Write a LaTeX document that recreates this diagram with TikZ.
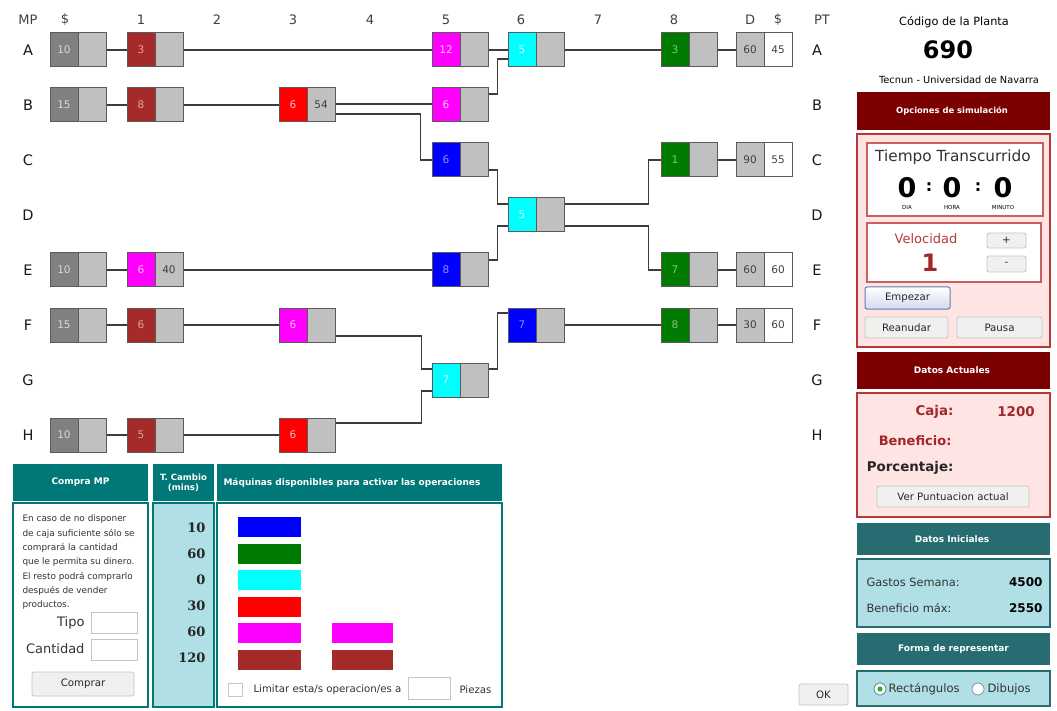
\documentclass[tikz,border=0pt]{standalone}
\usepackage{fontspec}
\setmainfont{DejaVu Sans}
\newfontfamily\serifb{DejaVu Serif}
\usetikzlibrary{calc}
\definecolor{mgrey}{HTML}{808080}
\definecolor{lgrey}{HTML}{C0C0C0}
\definecolor{brn}{HTML}{A52A2A}
\definecolor{grn}{HTML}{007A00}
\definecolor{cyn}{HTML}{00FFFF}
\definecolor{mag}{HTML}{FF00FF}
\definecolor{blu}{HTML}{0000FF}
\definecolor{rd}{HTML}{FF0000}
\definecolor{lnc}{HTML}{3C3C3C}
\definecolor{boxb}{HTML}{5A5A5A}
\definecolor{boxtxt}{HTML}{404040}
\definecolor{dred}{HTML}{7B0000}
\definecolor{pinkf}{HTML}{FFE4E4}
\definecolor{pinkb}{HTML}{B83838}
\definecolor{pinkl}{HTML}{C86060}
\definecolor{tealA}{HTML}{007878}
\definecolor{tealB}{HTML}{266C70}
\definecolor{pblue}{HTML}{B0E0E6}
\definecolor{txtred}{HTML}{A0282A}
\definecolor{btnf}{HTML}{F0F0EE}
\definecolor{btnb}{HTML}{C4C4C4}
\definecolor{tgrey}{HTML}{D8D8D8}
\definecolor{tbrn}{HTML}{E8A0A0}
\definecolor{tred}{HTML}{FFC0C0}
\definecolor{tmag}{HTML}{FFC8FF}
\definecolor{tcya}{HTML}{D0FFFF}
\definecolor{tblu}{HTML}{9090FF}
\definecolor{tgrn}{HTML}{80C880}
\definecolor{empb}{HTML}{5F7FB0}
\definecolor{empf}{HTML}{D4DAF0}
\definecolor{radb}{HTML}{6080A0}
\definecolor{radb2}{HTML}{8090A0}
\definecolor{radg}{HTML}{20B020}
\definecolor{chkb}{HTML}{C8C8C0}
\tikzset{
 lbox/.style={draw=boxb, line width=1pt, minimum width=28pt, minimum height=34pt, inner sep=0pt, font=\fontsize{10.5}{12}\selectfont},
 rbox/.style={lbox, fill=lgrey, text=boxtxt},
 wire/.style={draw=lnc, line width=1.6pt},
 hdr/.style={font=\fontsize{13}{15}\selectfont, text=black!75},
 rowl/.style={font=\fontsize{14.5}{16}\selectfont, text=black!90},
 bantext/.style={font=\bfseries\fontsize{9}{10.5}\selectfont, text=white, align=center},
 btn/.style={draw=btnb, fill=btnf, rounded corners=2pt, line width=0.8pt},
 tbox/.style={draw=btnb, fill=white, line width=0.8pt},
 btntxt/.style={font=\fontsize{10.2}{12}\selectfont, text=black!85},
}
\newcommand\mach[7]{%
 \node[lbox,fill=#4,text=#5] (#1) at (#2+14,#3) {#6};
 \node[rbox] (#1r) at (#2+42,#3) {#7};}
\newcommand\dmach[4]{%
 \node[lbox,fill=lgrey,text=boxtxt] (#1) at (750,#2) {#3};
 \node[lbox,fill=white,text=boxtxt] (#1r) at (778,#2) {#4};}
\begin{document}
\begin{tikzpicture}[x=1pt,y=-1pt]
\useasboundingbox[fill=white] (0,0) rectangle (1057,711);
% headers
\foreach \t/\x [count=\i] in {MP/28,\$/65,1/141,2/217,3/293,4/370,5/446,6/521,7/598,8/674,D/750,\$/778,PT/822}
 \node[hdr] (h\i) at (\x,20) {\t};
\foreach \r/\y in {A/50,B/105,C/160,D/215,E/270,F/325,G/380,H/435}{
 \node[rowl] (L\r) at (28,\y) {\r};
 \node[rowl] (R\r) at (817,\y) {\r};}
% machines
\mach{A0}{50}{50}{mgrey}{tgrey}{10}{}
\mach{A1}{127}{50}{brn}{tbrn}{3}{}
\mach{A5}{432}{50}{mag}{tmag}{12}{}
\mach{A6}{508}{50}{cyn}{tcya}{5}{}
\mach{A8}{661}{50}{grn}{tgrn}{3}{}
\dmach{AD}{50}{60}{45}
\mach{B0}{50}{105}{mgrey}{tgrey}{15}{}
\mach{B1}{127}{105}{brn}{tbrn}{8}{}
\mach{B3}{279}{105}{rd}{tred}{6}{54}
\mach{B5}{432}{105}{mag}{tmag}{6}{}
\mach{C5}{432}{160}{blu}{tblu}{6}{}
\mach{C8}{661}{160}{grn}{tgrn}{1}{}
\dmach{CD}{160}{90}{55}
\mach{D6}{508}{215}{cyn}{tcya}{5}{}
\mach{E0}{50}{270}{mgrey}{tgrey}{10}{}
\mach{E1}{127}{270}{mag}{tmag}{6}{40}
\mach{E5}{432}{270}{blu}{tblu}{8}{}
\mach{E8}{661}{270}{grn}{tgrn}{7}{}
\dmach{ED}{270}{60}{60}
\mach{F0}{50}{325}{mgrey}{tgrey}{15}{}
\mach{F1}{127}{325}{brn}{tbrn}{6}{}
\mach{F3}{279}{325}{mag}{tmag}{6}{}
\mach{F6}{508}{325}{blu}{tblu}{7}{}
\mach{F8}{661}{325}{grn}{tgrn}{8}{}
\dmach{FD}{325}{30}{60}
\mach{G5}{432}{380}{cyn}{tcya}{7}{}
\mach{H0}{50}{435}{mgrey}{tgrey}{10}{}
\mach{H1}{127}{435}{brn}{tbrn}{5}{}
\mach{H3}{279}{435}{rd}{tred}{6}{}
% wires
\draw[wire] (A0r.east) -- (A1.west);
\draw[wire] (A1r.east) -- (A5.west);
\draw[wire] (A5r.east) -- (A6.west);
\draw[wire] (A6r.east) -- (A8.west);
\draw[wire] (A8r.east) -- (AD.west);
\draw[wire] (B0r.east) -- (B1.west);
\draw[wire] (B1r.east) -- (B3.west);
\draw[wire] ([yshift=1pt]B3r.east) -- ([yshift=1pt]B5.west);
\draw[wire] ([yshift=-9pt]B3r.east) -- ++(85,0) |- (C5.west);
\draw[wire] ([yshift=11pt]B5r.east) -- ++(9,0) |- ([yshift=-9pt]A6.west);
\draw[wire] ([yshift=-10pt]C5r.east) -- ++(9,0) |- ([yshift=11pt]D6.west);
\draw[wire] ([yshift=10pt]E5r.east) -- ++(9,0) |- ([yshift=-11pt]D6.west);
\draw[wire] ([yshift=11pt]D6r.east) -- ++(84,0) |- (C8.west);
\draw[wire] ([yshift=-11pt]D6r.east) -- ++(84,0) |- (E8.west);
\draw[wire] (C8r.east) -- (CD.west);
\draw[wire] (E8r.east) -- (ED.west);
\draw[wire] (E0r.east) -- (E1.west);
\draw[wire] (E1r.east) -- (E5.west);
\draw[wire] (F0r.east) -- (F1.west);
\draw[wire] (F1r.east) -- (F3.west);
\draw[wire] ([yshift=-11pt]F3r.east) -- ++(86,0) |- ([yshift=11pt]G5.west);
\draw[wire] ([yshift=12pt]H3r.east) -- ++(86,0) |- ([yshift=-11pt]G5.west);
\draw[wire] ([yshift=11pt]G5r.east) -- ++(9,0) |- ([yshift=12pt]F6.west);
\draw[wire] (F6r.east) -- (F8.west);
\draw[wire] (F8r.east) -- (FD.west);
\draw[wire] (H0r.east) -- (H1.west);
\draw[wire] (H1r.east) -- (H3.west);
% ---------------- right panel
\node[font=\fontsize{11.3}{13}\selectfont] (code) at (954,22) {Código de la Planta};
\node[font=\bfseries\fontsize{24}{26}\selectfont] (num) at (948,50) {690};
\node[font=\fontsize{9.8}{11}\selectfont] (tec) at (959,80) {Tecnun - Universidad de Navarra};
\fill[dred] (857,92) rectangle (1050,130);
\node[bantext, font=\bfseries\fontsize{8.4}{10}\selectfont] (opc) at (952,111) {Opciones de simulación};
\draw[pinkb, fill=pinkf, line width=1.6pt] (857,134) rectangle (1050,347);
\draw[pinkl, fill=white, line width=1.2pt] (867,143) rectangle (1043,216);
\node[font=\fontsize{15.3}{17}\selectfont, text=black!80] (tt) at (953,157) {Tiempo Transcurrido};
\foreach \x/\n in {907/z1,952/z2,1003/z3}
 \node[font=\bfseries\fontsize{27}{29}\selectfont] (\n) at (\x,188) {0};
\node[font=\bfseries\fontsize{16}{18}\selectfont] (c1) at (929,187) {:};
\node[font=\bfseries\fontsize{16}{18}\selectfont] (c2) at (978,187) {:};
\node[font=\fontsize{5.5}{6}\selectfont] (dia) at (907,207) {DIA};
\node[font=\fontsize{5.5}{6}\selectfont] (hora) at (952,207) {HORA};
\node[font=\fontsize{5.5}{6}\selectfont] (minu) at (1003,207) {MINUTO};
\draw[pinkl, fill=white, line width=1.2pt] (867,223) rectangle (1041,282);
\node[font=\fontsize{13}{15}\selectfont, text=pinkb] (vel) at (926,239) {Velocidad};
\node[font=\bfseries\fontsize{24}{26}\selectfont, text=txtred] (v1) at (930,263) {1};
\draw[btn] (987,233) rectangle (1026,248);
\node[btntxt] (plus) at (1006.5,240.5) {+};
\draw[btn] (987,256) rectangle (1026,272);
\node[btntxt] (minus) at (1006.5,264) {-};
\draw[draw=empb, line width=1pt, rounded corners=2pt, top color=white, bottom color=empf] (865,287) rectangle (950,309);
\node[btntxt] (emp) at (907.5,298) {Empezar};
\draw[btn] (865,317) rectangle (948,338);
\node[btntxt] (rea) at (906.5,327.5) {Reanudar};
\draw[btn] (957,317) rectangle (1042,338);
\node[btntxt] (pau) at (999.5,327.5) {Pausa};
% Datos actuales
\fill[dred] (857,352) rectangle (1050,389);
\node[bantext] (dact) at (952,370.5) {Datos Actuales};
\draw[pinkb, fill=pinkf, line width=1.6pt] (857,393) rectangle (1050,517);
\node[anchor=east, font=\bfseries\fontsize{13.4}{15}\selectfont, text=txtred] (caja) at (957,412) {Caja:};
\node[font=\bfseries\fontsize{13.4}{15}\selectfont, text=txtred] (cajav) at (1016,412) {1200};
\node[anchor=east, font=\bfseries\fontsize{13}{15}\selectfont, text=txtred] (ben) at (955,441) {Beneficio:};
\node[anchor=east, font=\bfseries\fontsize{13.4}{15}\selectfont, text=black!85] (por) at (957,468) {Porcentaje:};
\draw[btn] (877,486) rectangle (1029,507);
\node[btntxt] (ver) at (953,496.5) {Ver Puntuacion actual};
% Datos iniciales
\fill[tealB] (857,523) rectangle (1050,555);
\node[bantext] (dini) at (952,539) {Datos Iniciales};
\draw[tealB, fill=pblue, line width=1.6pt] (857,559) rectangle (1050,627);
\node[anchor=west, font=\fontsize{11.4}{13}\selectfont, text=black!80] (gs) at (863,582) {Gastos Semana:};
\node[anchor=east, font=\bfseries\fontsize{12}{14}\selectfont] (gsv) at (1046,582) {4500};
\node[anchor=west, font=\fontsize{11.4}{13}\selectfont, text=black!80] (bm) at (863,608) {Beneficio máx:};
\node[anchor=east, font=\bfseries\fontsize{12}{14}\selectfont] (bmv) at (1046,608) {2550};
% Forma de representar
\fill[tealB] (857,633) rectangle (1050,665);
\node[bantext] (forma) at (953.5,649) {Forma de representar};
\draw[tealB, fill=pblue, line width=1.6pt] (857,671) rectangle (1050,706);
\draw[radb, fill=white, line width=0.8pt] (880,689) circle (6);
\fill[radg] (880,689) circle (2.5);
\node[anchor=west, font=\fontsize{11.6}{13}\selectfont, text=black!80] (rect) at (885,689) {Rectángulos};
\draw[radb2, fill=white, line width=0.8pt] (978,689) circle (6);
\node[anchor=west, font=\fontsize{11.6}{13}\selectfont, text=black!80] (dib) at (984,689) {Dibujos};
% OK
\draw[btn] (799,684) rectangle (848,705);
\node[btntxt] (ok) at (823.5,694.5) {OK};
% ---------------- bottom left
\fill[tealA] (13,464) rectangle (148,501);
\node[bantext] (cmp) at (80.5,482.5) {Compra MP};
\fill[tealA] (153,464) rectangle (214,501);
\node[bantext, font=\bfseries\fontsize{8.6}{10}\selectfont] (tc) at (183.5,482.5) {T. Cambio\\(mins)};
\fill[tealA] (217,464) rectangle (502,501);
\node[bantext, anchor=west] (maq) at (220,482.5) {Máquinas disponibles para activar las operaciones};
\draw[tealA, fill=white, line width=1.6pt] (13,503) rectangle (148,707);
\draw[tealA, fill=pblue, line width=1.6pt] (153,503) rectangle (214,707);
\draw[tealA, fill=white, line width=1.6pt] (217,503) rectangle (502,707);
\foreach \t [count=\i] in {En caso de no disponer,de caja suficiente sólo se,comprará la cantidad,que le permita su dinero.,El resto podrá comprarlo,después de vender,productos.}
 \node[anchor=west, font=\fontsize{8.9}{10}\selectfont, text=black!80] (cm\i) at (19,{504.6+\i*14.4}) {\t};
\node[anchor=east, font=\fontsize{13}{15}\selectfont, text=black!80] (tipo) at (88,623) {Tipo};
\draw[tbox] (91,612) rectangle (137,633);
\node[anchor=east, font=\fontsize{13}{15}\selectfont, text=black!80] (cant) at (88,649) {Cantidad};
\draw[tbox] (91,639) rectangle (137,660);
\draw[btn] (32,672) rectangle (134,696);
\node[btntxt] (comp) at (83,684) {Comprar};
\foreach \t/\y [count=\i] in {10/528,60/554,0/580,30/606,60/632,120/658}
 \node[anchor=east, font=\serifb\bfseries\fontsize{13}{15}\selectfont, text=black!85] (tn\i) at (209,\y) {\t};
\foreach \c/\y in {blu/517,grn/544,cyn/570,rd/597,mag/623,brn/650}
 \fill[\c] (238,\y) rectangle (301,\y+20);
\fill[mag] (332,623) rectangle (393,643);
\fill[brn] (332,650) rectangle (393,670);
\draw[chkb, fill=white, line width=0.8pt] (228,683) rectangle (242,696);
\node[anchor=west, font=\fontsize{10.2}{12}\selectfont, text=black!80] (lim) at (250,690) {Limitar esta/s operacion/es a};
\draw[tbox] (408,677) rectangle (450,699);
\node[anchor=west, font=\fontsize{10.2}{12}\selectfont, text=black!80] (pz) at (456,690) {Piezas};
\end{tikzpicture}
\end{document}
